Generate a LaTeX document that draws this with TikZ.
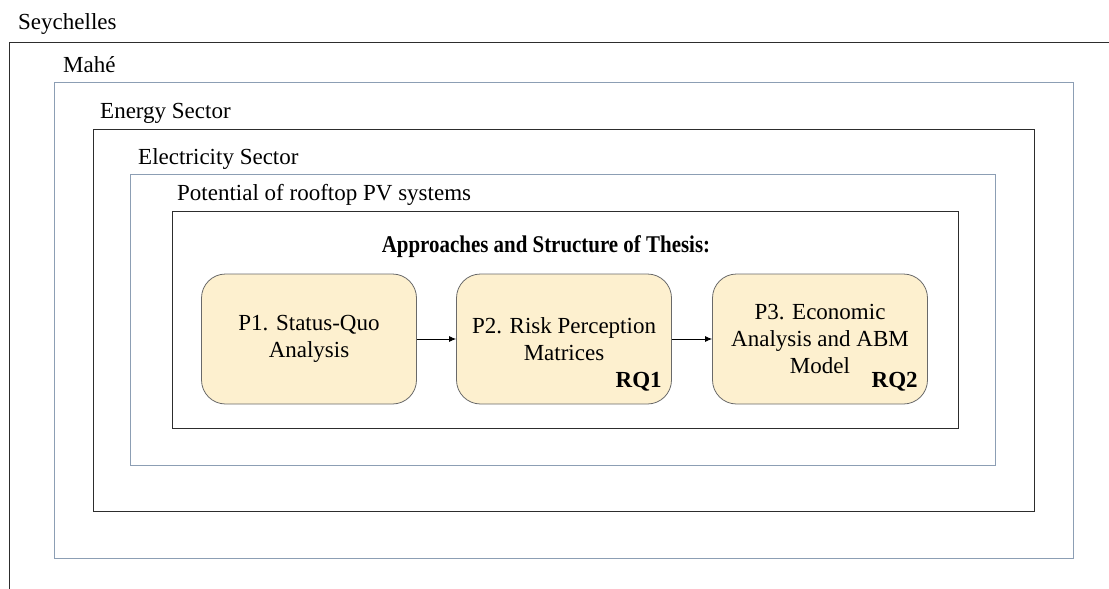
\documentclass[tikz,border=0pt]{standalone}
\usepackage{fontspec}
\setmainfont{Liberation Serif}
\usetikzlibrary{arrows.meta,calc}
\definecolor{bluegrey}{RGB}{140,158,180}
\definecolor{darkline}{RGB}{45,45,45}
\definecolor{boxfill}{RGB}{253,240,207}
\definecolor{boxline}{RGB}{105,105,105}
\tikzset{
  lbl/.style={anchor=base west, inner sep=0pt, font=\fontsize{23}{27}\selectfont},
  bluebox/.style={draw=bluegrey, line width=1pt},
  blackbox/.style={draw=darkline, line width=1pt},
  pbox/.style={draw=boxline, fill=boxfill, line width=0.8pt, rounded corners=24pt,
    minimum width=215pt, minimum height=130pt, align=center, inner sep=4pt,
    font=\fontsize{23}{27}\selectfont},
  rq/.style={anchor=base east, inner sep=0pt, font=\fontsize{23}{27}\selectfont\bfseries},
  conn/.style={draw=black, line width=0.8pt, -{Latex[length=7pt,width=6pt]}}
}
\begin{document}
\begin{tikzpicture}[x=1pt,y=-1pt]
\useasboundingbox (0,0) rectangle (1109,589);
% Seychelles (open box)
\draw[blackbox] (9,589) -- (9,42) -- (1109,42);
\node[lbl] (sey) at (18,30) {Seychelles};
% Mahe
\draw[bluebox] (54,82) rectangle (1073,558);
\node[lbl] (mahe) at (63,72) {Mahé};
% Energy
\draw[blackbox] (93,129) rectangle (1034,511);
\node[lbl] (energy) at (100,118) {Energy Sector};
% Electricity
\draw[bluebox] (130,174) rectangle (995,465);
\node[lbl] (elec) at (138,164) {Electricity Sector};
% Potential
\draw[blackbox] (172,211) rectangle (958,428);
\node[lbl] (pot) at (177,200) {Potential of rooftop PV systems};
% Title
\node[anchor=base, inner sep=0pt, font=\fontsize{24}{28}\selectfont\bfseries] (title) at (546,252) {\scalebox{0.872}[1]{Approaches and Structure of Thesis:}};
% Boxes
\node[pbox] (p1) at (309,339) {P1. Status-Quo\\Analysis};
\node[pbox] (p2) at (564,339) {P2. Risk Perception\\Matrices};
\node[pbox] (p3) at (820,339) {P3. Economic\\Analysis and ABM\\Model};
\node[rq] (rq1) at ($(p2.south east)+(-10,-17)$) {RQ1};
\node[rq] (rq2) at ($(p3.south east)+(-10,-17)$) {RQ2};
% Arrows
\draw[conn] (p1.east) -- (p2.west);
\draw[conn] (p2.east) -- (p3.west);
\end{tikzpicture}
\end{document}
